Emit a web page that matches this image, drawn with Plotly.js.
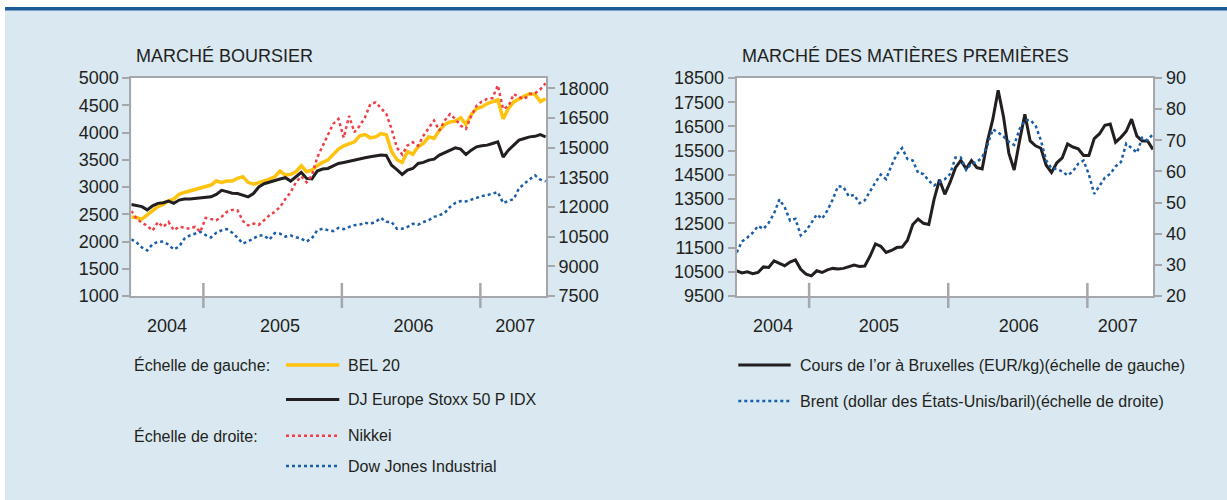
<!DOCTYPE html>
<html>
<head>
<meta charset="utf-8">
<script src="https://cdn.plot.ly/plotly-3.0.1.min.js"></script>
<style>
html,body{margin:0;padding:0;background:#d9e8f1;}
#chart{width:1227px;height:500px;}
</style>
</head>
<body>
<div id="chart"></div>
<script>
// ---- data (bi-weekly readings from the reference, starting 2004-06-25) ----
const firstDate = '2004-06-25';
const stepDays = 14;

// Left chart, left scale
const bel20 = [2450,2440,2410,2490,2580,2640,2680,2745,2780,2865,
  2900,2925,2945,2975,3000,3036,3110,3085,3110,3110,
  3160,3190,3085,3050,3080,3109,3146,3188,3292,3219,
  3231,3280,3390,3280,3310,3390,3451,3493,3585,3695,
  3756,3798,3829,3939,3963,3902,3920,3981,3960,3650,
  3500,3450,3650,3600,3740,3800,3920,3890,4040,4146,
  4195,4207,4268,4150,4330,4440,4470,4530,4561,4600,
  4250,4440,4560,4620,4670,4710,4700,4570,4620];
const djStoxx = [2680,2655,2640,2580,2655,2700,2712,2743,2700,2760,
  2780,2780,2790,2790,2805,2820,2865,2940,2915,2885,
  2880,2855,2820,2880,3000,3060,3090,3127,3146,3170,
  3109,3188,3268,3158,3150,3292,3329,3341,3390,3432,
  3451,3475,3493,3524,3536,3554,3573,3585,3580,3400,
  3320,3230,3310,3340,3432,3451,3493,3512,3585,3634,
  3676,3719,3695,3597,3676,3737,3756,3768,3798,3829,
  3550,3676,3768,3860,3890,3920,3930,3960,3920];
// Left chart, right scale
const nikkei = [11800,11410,11200,11050,10800,11240,10990,11240,10820,11000,
  10950,10900,11000,10740,11450,11400,11330,11500,11750,11850,
  11830,11300,11070,11160,11100,11330,11580,11750,12000,12400,
  12750,13250,13550,13250,13590,14500,15050,15600,16200,16450,
  15500,16600,15780,16100,16530,17200,17290,17000,16700,15950,
  15000,14650,15110,15270,15100,15610,16000,16370,15860,16370,
  16700,16450,16110,15950,16600,17120,17330,17460,17500,18150,
  16950,17100,17710,17550,17460,17710,17750,17950,18250];
const dowJones = [10370,10200,9950,9800,10120,10240,10250,10100,9850,10000,
  10400,10560,10650,10740,10580,10460,10700,10820,10880,10700,
  10450,10150,10260,10420,10560,10550,10350,10680,10650,10500,
  10560,10470,10400,10250,10420,10820,10900,10830,10780,10940,
  10880,10990,11080,11110,11200,11150,11250,11450,11250,11240,
  10900,10900,10990,11150,11110,11240,11330,11500,11580,11700,
  12000,12200,12300,12280,12380,12450,12550,12600,12670,12750,
  12200,12300,12400,12950,13200,13400,13600,13380,13300];
// Right chart
const goldBrussels = [10540,10450,10500,10420,10470,10700,10680,10950,10850,10750,
  10900,10990,10600,10400,10330,10540,10470,10580,10640,10610,
  10640,10700,10780,10720,10740,11150,11650,11550,11300,11380,
  11500,11520,11800,12450,12680,12500,12450,13500,14300,13700,
  14200,14800,15100,14750,15090,14800,14750,15900,16800,17990,
  16900,15400,14700,15900,17000,15900,15700,15600,14900,14600,
  15000,15200,15780,15650,15580,15300,15300,16000,16200,16550,
  16600,15850,16050,16300,16800,16100,15900,15900,15550];
const brent = [34.0,37.5,38.8,40.3,42.5,41.5,43.5,46.5,51.0,48.5,
  44.2,44.8,39.5,41.0,43.5,46.2,44.8,47.5,51.0,55.3,
  55.0,52.0,52.5,49.8,50.7,53.8,56.5,59.0,57.5,61.9,
  65.5,67.5,64.0,63.5,59.5,59.2,57.0,55.5,56.6,57.5,
  59.2,64.5,64.5,60.5,62.5,63.0,64.5,68.5,73.5,72.5,
  71.2,69.5,68.5,73.5,76.4,76.5,74.8,70.0,63.5,61.0,
  60.8,60.0,58.7,60.0,62.5,63.5,59.0,52.8,55.4,58.0,
  59.2,61.6,63.0,68.9,67.5,66.0,70.8,70.0,72.0];

// axis / tick labels
const yearLabels = ['2004','2005','2006','2007'];
const yearLabelPosLeft = ['2004-09-27','2005-07-22','2006-07-09','2007-04-03'];
const yearLabelPosRight = ['2004-09-28','2005-07-03','2006-07-05','2007-03-22'];
const yearBounds = ['2005-01-01','2006-01-01','2007-01-01'];
const xRange = ['2004-06-25','2007-06-23'];
const leftTicksY = [1000,1500,2000,2500,3000,3500,4000,4500,5000];
const leftTicksY2 = [7500,9000,10500,12000,13500,15000,16500,18000];
const rightTicksY = [9500,10500,11500,12500,13500,14500,15500,16500,17500,18500];
const rightTicksY2 = [20,30,40,50,60,70,80,90];

const titleLeft = 'MARCHÉ BOURSIER';
const titleRight = 'MARCHÉ DES MATIÈRES PREMIÈRES';

// ---- build ----
const dates = bel20.map((_, k) => {
  const base = Date.parse(firstDate + 'T00:00:00Z');
  return new Date(base + k * stepDays * 86400000).toISOString().slice(0, 10);
});

const W = 1227, H = 500;
const px = v => v / W;
const py = v => 1 - v / H;

const TXT = '#231f20';
const GRID = '#a5a7aa';
const C = {bel:'#ffc20e', black:'#231f20', red:'#ef3e46', blue:'#1a5ea8'};

const traces = [
  {x: dates, y: bel20, xaxis:'x', yaxis:'y', mode:'lines', name:'BEL 20',
   line:{color:C.bel, width:3.5}},
  {x: dates, y: djStoxx, xaxis:'x', yaxis:'y', mode:'lines', name:'DJ Europe Stoxx 50 P IDX',
   line:{color:C.black, width:3}},
  {x: dates, y: nikkei, xaxis:'x', yaxis:'y2', mode:'lines', name:'Nikkei',
   line:{color:C.red, width:2.5, dash:'dot'}},
  {x: dates, y: dowJones, xaxis:'x', yaxis:'y2', mode:'lines', name:'Dow Jones Industrial',
   line:{color:C.blue, width:2.5, dash:'dot'}},
  {x: dates, y: goldBrussels, xaxis:'x2', yaxis:'y3', mode:'lines', name:'Cours de l’or à Bruxelles',
   line:{color:C.black, width:3}},
  {x: dates, y: brent, xaxis:'x2', yaxis:'y4', mode:'lines', name:'Brent',
   line:{color:C.blue, width:2.5, dash:'dot'}}
];

const domYL = [py(296), py(78)];
const domXL = [px(131.3), px(546)];
const domXR = [px(736.7), px(1153.3)];

const xCommon = {
  type:'date', range:xRange, ticks:'', showgrid:false, zeroline:false,
  showline:true, mirror:true, linecolor:GRID, linewidth:2,
  tickfont:{size:18, color:TXT}, ticklabelstandoff:12, fixedrange:true
};
const yCommon = {
  showgrid:false, zeroline:false, showline:true, linecolor:GRID, linewidth:2,
  ticks:'outside', ticklen:7, tickwidth:2, tickcolor:GRID, tickformat:'d',
  tickfont:{size:18, color:TXT}, fixedrange:true
};

const shapes = [
  {type:'rect', xref:'paper', yref:'paper', x0:0, x1:1, y0:py(7), y1:1, fillcolor:'#ffffff', line:{width:0}},
  {type:'rect', xref:'paper', yref:'paper', x0:0, x1:px(5), y0:0, y1:1, fillcolor:'#ffffff', line:{width:0}},
  {type:'rect', xref:'paper', yref:'paper', x0:px(5), x1:1, y0:py(10.5), y1:py(7), fillcolor:'#1d5a98', line:{width:0}}
];
yearBounds.forEach(d => {
  shapes.push({type:'line', xref:'x', yref:'y domain', x0:d, x1:d, y0:-0.055, y1:0.06, line:{color:GRID, width:2.5}});
  shapes.push({type:'line', xref:'x2', yref:'y3 domain', x0:d, x1:d, y0:-0.055, y1:0.06, line:{color:GRID, width:2.5}});
});

// custom legends
const legendLeft = [
  {label:'BEL 20', color:C.bel, dash:'solid', w:3.5, y:365},
  {label:'DJ Europe Stoxx 50 P IDX', color:C.black, dash:'solid', w:3, y:399.5},
  {label:'Nikkei', color:C.red, dash:'dot', w:2.5, y:435.7},
  {label:'Dow Jones Industrial', color:C.blue, dash:'dot', w:2.5, y:466}
];
const legendRight = [
  {label:'Cours de l’or à Bruxelles (EUR/kg)(échelle de gauche)', color:C.black, dash:'solid', w:3, y:365},
  {label:'Brent (dollar des États-Unis/baril)(échelle de droite)', color:C.blue, dash:'dot', w:2.5, y:401}
];
const annotations = [
  {text:titleLeft, xref:'paper', yref:'paper', x:px(133.5), y:py(56.5), xanchor:'left', yanchor:'middle', showarrow:false, font:{size:18, color:TXT}},
  {text:titleRight, xref:'paper', yref:'paper', x:px(739.5), y:py(56.5), xanchor:'left', yanchor:'middle', showarrow:false, font:{size:18, color:TXT}},
  {text:'Échelle de gauche:', xref:'paper', yref:'paper', x:px(132), y:py(365), xanchor:'left', yanchor:'middle', showarrow:false, font:{size:16, color:TXT}},
  {text:'Échelle de droite:', xref:'paper', yref:'paper', x:px(132), y:py(435.7), xanchor:'left', yanchor:'middle', showarrow:false, font:{size:16, color:TXT}}
];
function addLegend(items, s0, s1, tx) {
  items.forEach(it => {
    shapes.push({type:'line', xref:'paper', yref:'paper', x0:px(s0), x1:px(s1), y0:py(it.y), y1:py(it.y),
      line:{color:it.color, width:it.w, dash:it.dash}});
    annotations.push({text:it.label, xref:'paper', yref:'paper', x:px(tx), y:py(it.y), xanchor:'left', yanchor:'middle',
      showarrow:false, font:{size:16, color:TXT}});
  });
}
addLegend(legendLeft, 286, 339.3, 345.5);
addLegend(legendRight, 738.3, 790.7, 797.5);

const layout = {
  width:W, height:H,
  margin:{l:0, r:0, t:0, b:0, pad:0},
  paper_bgcolor:'#d9e8f1', plot_bgcolor:'#ffffff',
  font:{family:'"Liberation Sans", Arial, sans-serif', size:18, color:TXT},
  showlegend:false,
  xaxis: Object.assign({}, xCommon, {domain:domXL, anchor:'y', tickvals:yearLabelPosLeft, ticktext:yearLabels}),
  yaxis: Object.assign({}, yCommon, {domain:domYL, anchor:'x', range:[1000,5000], tickvals:leftTicksY}),
  yaxis2: Object.assign({}, yCommon, {overlaying:'y', side:'right', anchor:'x', range:[7500,18520], tickvals:leftTicksY2}),
  xaxis2: Object.assign({}, xCommon, {domain:domXR, anchor:'y3', tickvals:yearLabelPosRight, ticktext:yearLabels}),
  yaxis3: Object.assign({}, yCommon, {domain:domYL, anchor:'x2', range:[9500,18500], tickvals:rightTicksY}),
  yaxis4: Object.assign({}, yCommon, {overlaying:'y3', side:'right', anchor:'x2', range:[20,90], tickvals:rightTicksY2}),
  shapes: shapes,
  annotations: annotations
};

Plotly.newPlot('chart', traces, layout, {displayModeBar:false, staticPlot:true});
</script>
</body>
</html>
